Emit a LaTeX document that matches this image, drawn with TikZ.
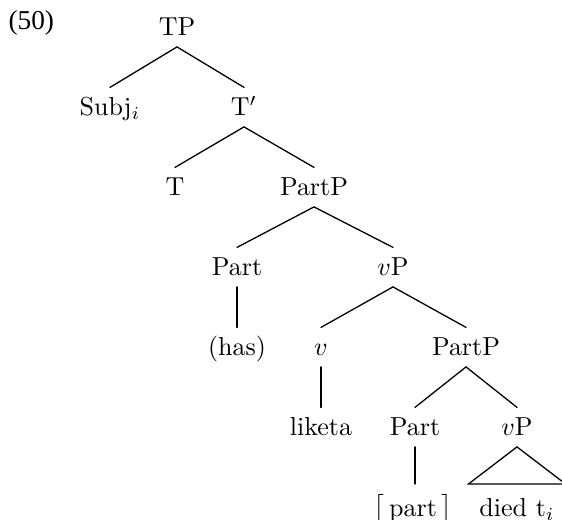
\documentclass[tikz,border=0pt]{standalone}
\usepackage{amsmath}
\usepackage{fontspec}
\newfontfamily\exnum{Liberation Serif}
\usetikzlibrary{positioning}
\tikzstyle{Branch} = [line width=0.5pt, line cap=round]

\begin{document}
\begin{tikzpicture}[
x=0.3846pt, y=-0.3846pt,
cat/.style={
    anchor=base,
    inner sep=4pt,
    text height=6.8pt,
    text depth=0pt
    },
leaf/.style={cat, text height=8.5pt}
]
\useasboundingbox (0,0) rectangle (562,520);

% example number
\node [anchor=base west, inner sep=0pt, font=\exnum\fontsize{10.5}{12}\selectfont] (num) at (8,30) {(50)};

% nodes, one row at a time
\node [cat] (tp) at (177,36) {TP};

\node [cat] (subj) at (110,116) {Subj$_i$};
\node [cat] (tbar) at (244,116) {T$'$};

\node [cat] (t) at (175,196) {T};
\node [cat] (partp) at (314,196) {PartP};

\node [cat] (part) at (237,276) {Part};
\node [cat] (vp) at (393,276) {$v$P};

\node [cat] (has) at (237,356) {(has)};
\node [cat] (v) at (321,356) {$v$};
\node [cat] (partp2) at (466,356) {PartP};

\node [cat] (liketa) at (321,436) {liketa};
\node [cat] (part2) at (415,436) {Part};
\node [cat] (vp2) at (517,436) {$v$P};

\node [leaf] (feat) at (413,517) {$\big[\,\text{part}\,\big]$};
\node [leaf] (died) at (517,517) {died t$_i$};

% branches
\draw[Branch] (tp.south) -- (subj.north);
\draw[Branch] (tp.south) -- (tbar.north);
\draw[Branch] (tbar.south) -- (t.north);
\draw[Branch] (tbar.south) -- (partp.north);
\draw[Branch] (partp.south) -- (part.north);
\draw[Branch] (partp.south) -- (vp.north);
\draw[Branch] (part.south) -- (has.north);
\draw[Branch] (vp.south) -- (v.north);
\draw[Branch] (vp.south) -- (partp2.north);
\draw[Branch] (v.south) -- (liketa.north);
\draw[Branch] (partp2.south) -- (part2.north);
\draw[Branch] (partp2.south) -- (vp2.north);
\draw[Branch] (part2.south) -- (part2.south |- feat.north);

% roof over the lowest vP
\draw[Branch] (vp2.south) -- (died.north west) -- (died.north east) -- cycle;

\end{tikzpicture}
\end{document}
